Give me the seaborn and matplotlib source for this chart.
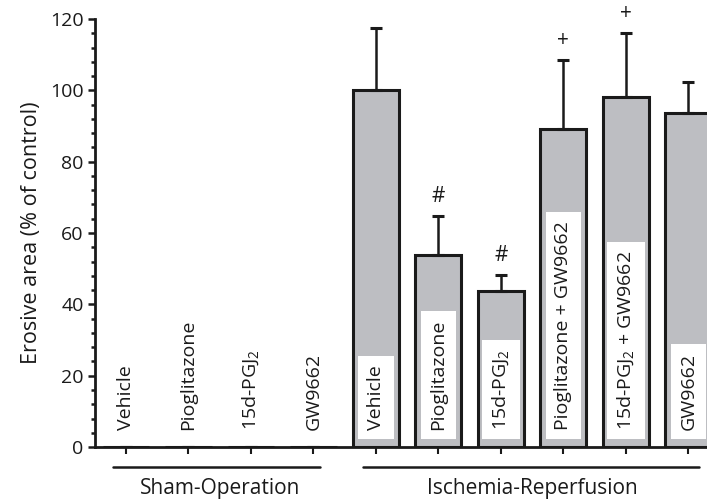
import matplotlib
matplotlib.use("Agg")
import matplotlib.pyplot as plt
import seaborn as sns
import numpy as np
import pandas as pd

# data
groups = ["Sham-Operation"] * 4 + ["Ischemia-Reperfusion"] * 6
treatments = ["Vehicle", "Pioglitazone", "15d-PGJ$_2$", "GW9662",
              "Vehicle", "Pioglitazone", "15d-PGJ$_2$", "Pioglitazone + GW9662",
              "15d-PGJ$_2$ + GW9662", "GW9662"]
erosive_area = [0, 0, 0, 0, 100, 53.8, 43.8, 89.2, 98.2, 93.6]
sem_upper = [0, 0, 0, 0, 17.6, 11.0, 4.4, 19.3, 17.9, 8.6]
signif = ["", "", "", "", "", "#", "#", "+", "+", ""]

df = pd.DataFrame({
    "pos": [str(i) for i in range(len(treatments))],
    "group": groups,
    "label": treatments,
    "value": erosive_area,
})

sns.set_style("ticks")
plt.rcParams["font.family"] = ["Open Sans", "DejaVu Sans"]
plt.rcParams["mathtext.default"] = "regular"

fig = plt.figure(figsize=(7.07, 4.99), dpi=100)
ax = fig.add_axes([0.134, 0.104, 0.866, 0.858])

sns.barplot(data=df, x="pos", y="value", color="#bdbec2", saturation=1,
            width=0.74, edgecolor="#1a1a1a", linewidth=2.2, errorbar=None, ax=ax)

x = np.arange(len(treatments))
ax.errorbar(x, erosive_area, yerr=[np.zeros(len(x)), sem_upper], fmt="none",
            ecolor="#1a1a1a", elinewidth=1.8, capsize=4.5, capthick=2.2, zorder=1)

# labels inside the bars
for i, lab in enumerate(treatments):
    ax.text(i, 4.8, lab, rotation=90, ha="center", va="bottom", fontsize=14,
            color="#1a1a1a",
            bbox=dict(boxstyle="square,pad=0.45", facecolor="white", edgecolor="none"))

# significance marks
for i, s in enumerate(signif):
    if s:
        ax.annotate(s, (i, erosive_area[i] + sem_upper[i]), xytext=(0, 14),
                    textcoords="offset points", ha="center", va="center",
                    fontsize=15, color="#1a1a1a", annotation_clip=False)

ax.set_ylim(0, 120)
ax.set_xlim(-0.5, 9.3)
ax.set_yticks(np.arange(0, 121, 20))
ax.set_yticks(np.arange(0, 121, 4), minor=True)
ax.set_ylabel("Erosive area (% of control)", fontsize=15.5, color="#1a1a1a", labelpad=6)
ax.set_xlabel("")
ax.set_xticks(x)
ax.set_xticklabels([])
ax.tick_params(axis="y", which="major", length=5, width=1.8, labelsize=14,
               colors="#1a1a1a", direction="out", pad=3)
ax.tick_params(axis="y", which="minor", length=3, width=1.8, color="#1a1a1a")
ax.tick_params(axis="x", length=5, width=1.5, color="#1a1a1a")
sns.despine(ax=ax)
for sp in ["left", "bottom"]:
    ax.spines[sp].set_linewidth(2.0)
    ax.spines[sp].set_color("#1a1a1a")

# group brackets under the axis
trans = ax.get_xaxis_transform()
ax.plot([-0.21, 3.11], [-0.047, -0.047], color="#1a1a1a", lw=1.8,
        transform=trans, clip_on=False)
ax.plot([3.8, 9.17], [-0.047, -0.047], color="#1a1a1a", lw=1.8,
        transform=trans, clip_on=False)
ax.text(1.5, -0.097, "Sham-Operation", transform=trans, ha="center", va="center",
        fontsize=15, color="#1a1a1a")
ax.text(6.5, -0.097, "Ischemia-Reperfusion", transform=trans, ha="center",
        va="center", fontsize=15, color="#1a1a1a")

fig.savefig("out.png", dpi=100)
